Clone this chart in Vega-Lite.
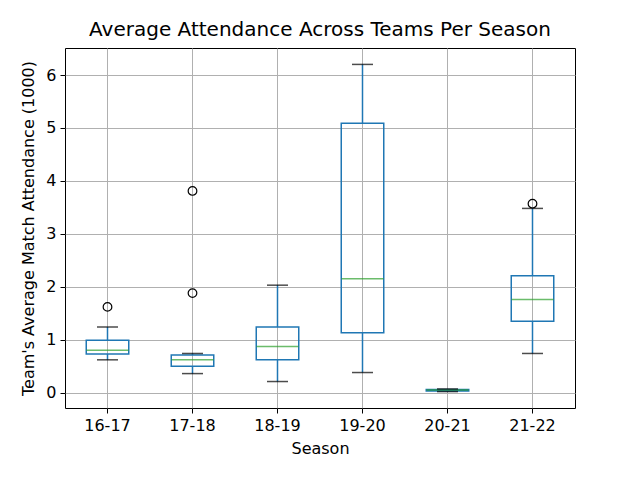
{
  "$schema": "https://vega.github.io/schema/vega-lite/v6.json",
  "autosize": "none",
  "width": 510,
  "height": 360,
  "padding": {"left": 65, "top": 48, "right": 65, "bottom": 72},
  "background": "white",
  "title": {
    "text": "Average Attendance Across Teams Per Season",
    "fontSize": 20,
    "fontWeight": "normal",
    "font": "DejaVu Sans",
    "color": "black",
    "offset": 8
  },
  "config": {
    "font": "DejaVu Sans",
    "view": {"stroke": "black", "strokeWidth": 1},
    "axis": {
      "labelFont": "DejaVu Sans",
      "labelFontSize": 16,
      "labelColor": "black",
      "titleFont": "DejaVu Sans",
      "titleFontSize": 16,
      "titleFontWeight": "normal",
      "titleColor": "black",
      "tickColor": "black",
      "tickSize": 5,
      "labelPadding": 4,
      "domain": false,
      "gridColor": "#b0b0b0",
      "gridWidth": 1,
      "gridOpacity": 1
    }
  },
  "datasets": {
    "stats": [
      {"season": "16-17", "lower": 0.62, "q1": 0.73, "median": 0.8, "q3": 0.99, "upper": 1.24},
      {"season": "17-18", "lower": 0.36, "q1": 0.5, "median": 0.62, "q3": 0.71, "upper": 0.74},
      {"season": "18-19", "lower": 0.21, "q1": 0.62, "median": 0.87, "q3": 1.24, "upper": 2.03},
      {"season": "19-20", "lower": 0.38, "q1": 1.13, "median": 2.15, "q3": 5.09, "upper": 6.2},
      {"season": "20-21", "lower": 0.02, "q1": 0.03, "median": 0.05, "q3": 0.06, "upper": 0.07},
      {"season": "21-22", "lower": 0.74, "q1": 1.35, "median": 1.76, "q3": 2.21, "upper": 3.48}
    ],
    "outliers": [
      {"season": "16-17", "value": 1.62},
      {"season": "17-18", "value": 3.81},
      {"season": "17-18", "value": 1.88},
      {"season": "21-22", "value": 3.57}
    ]
  },
  "encoding": {
    "x": {
      "field": "season",
      "type": "nominal",
      "sort": null,
      "scale": {"paddingInner": 0, "paddingOuter": 0},
      "axis": {"title": "Season", "labelAngle": 0, "bandPosition": 0.5, "grid": true, "titlePadding": 7}
    }
  },
  "layer": [
    {
      "data": {"name": "stats"},
      "mark": {"type": "rule", "color": "#1f77b4", "strokeWidth": 1.5},
      "encoding": {
        "y": {
          "field": "lower",
          "type": "quantitative",
          "scale": {"domain": [-0.29, 6.51], "nice": false, "zero": false},
          "axis": {"title": "Team's Average Match Attendance (1000)", "values": [0, 1, 2, 3, 4, 5, 6], "grid": true, "titlePadding": 9}
        },
        "y2": {"field": "q1"}
      }
    },
    {
      "data": {"name": "stats"},
      "mark": {"type": "rule", "color": "#1f77b4", "strokeWidth": 1.5},
      "encoding": {
        "y": {"field": "q3", "type": "quantitative"},
        "y2": {"field": "upper"}
      }
    },
    {
      "data": {"name": "stats"},
      "mark": {"type": "bar", "fill": "transparent", "stroke": "#1f77b4", "strokeWidth": 1.5, "width": {"band": 0.5}},
      "encoding": {
        "y": {"field": "q1", "type": "quantitative"},
        "y2": {"field": "q3"}
      }
    },
    {
      "data": {"name": "stats"},
      "mark": {"type": "tick", "color": "#2ca02c", "size": 42, "thickness": 1.5},
      "encoding": {
        "y": {"field": "median", "type": "quantitative"}
      }
    },
    {
      "data": {"name": "stats"},
      "mark": {"type": "tick", "color": "black", "size": 21, "thickness": 1.5},
      "encoding": {
        "y": {"field": "upper", "type": "quantitative"}
      }
    },
    {
      "data": {"name": "stats"},
      "mark": {"type": "tick", "color": "black", "size": 21, "thickness": 1.5},
      "encoding": {
        "y": {"field": "lower", "type": "quantitative"}
      }
    },
    {
      "data": {"name": "outliers"},
      "mark": {"type": "point", "shape": "circle", "filled": false, "color": "black", "size": 75, "strokeWidth": 1.2, "opacity": 1},
      "encoding": {
        "y": {"field": "value", "type": "quantitative"}
      }
    }
  ]
}
